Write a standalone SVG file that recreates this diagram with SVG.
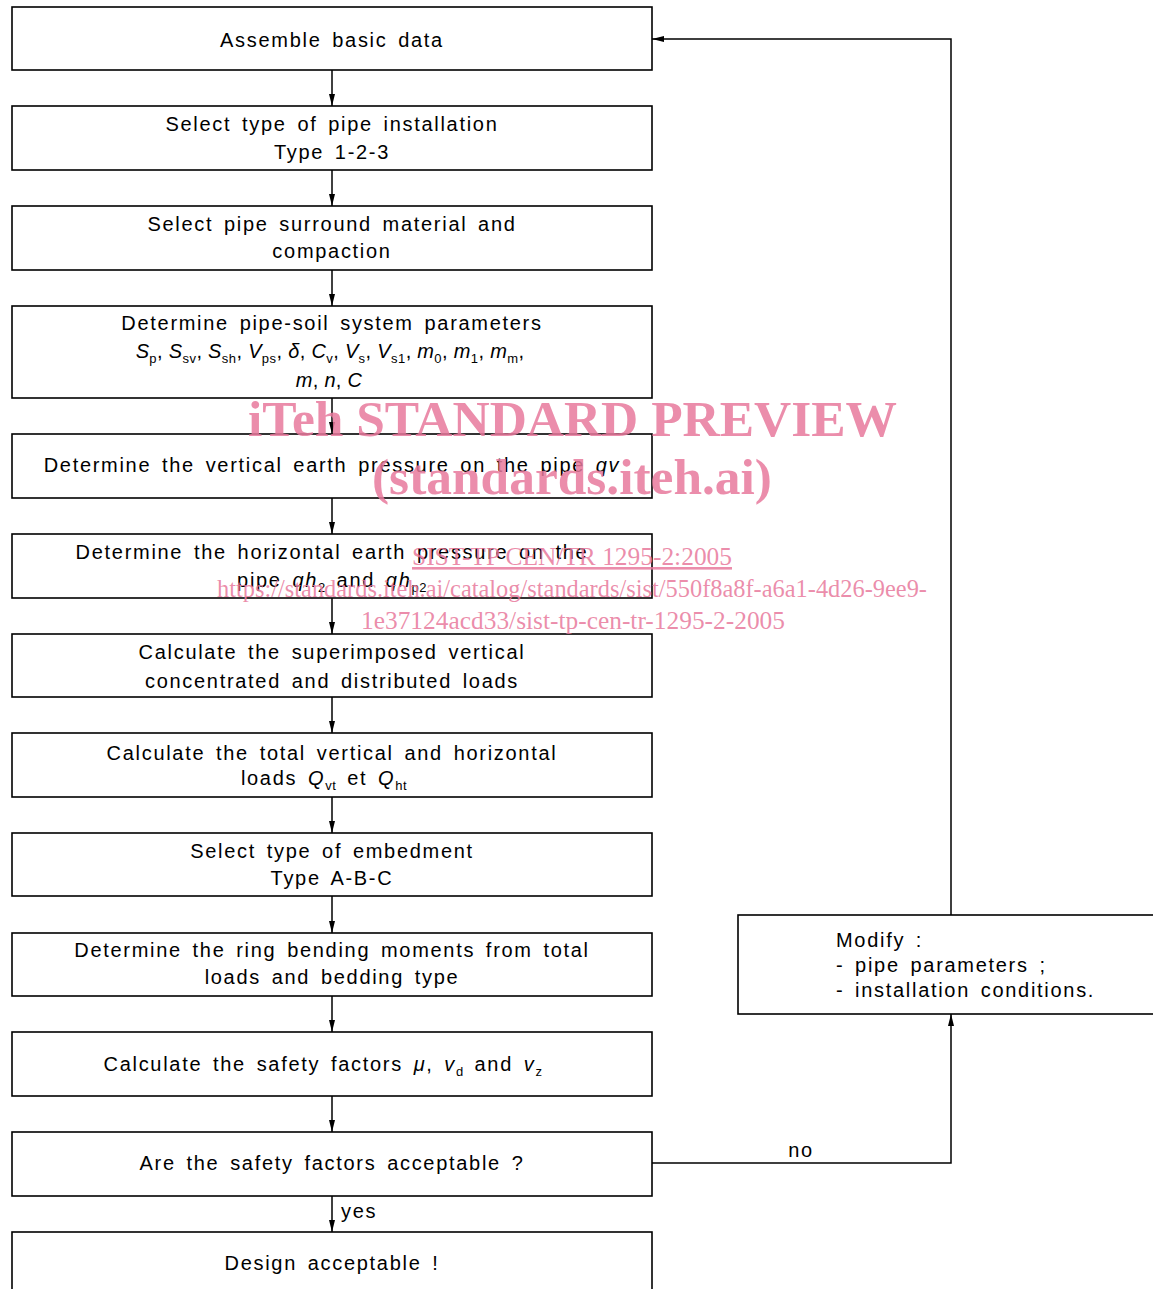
<svg xmlns="http://www.w3.org/2000/svg" width="1153" height="1289" viewBox="0 0 1153 1289">
<defs>
<marker id="arr" viewBox="0 0 12 6" refX="12" refY="3" markerWidth="12" markerHeight="6" markerUnits="userSpaceOnUse" orient="auto">
<path d="M0,0 L12,3 L0,6 Z" fill="#000"/>
</marker>
<style>
.box{fill:#fff;stroke:#000;stroke-width:1.6}
.t{font-family:"Liberation Sans","DejaVu Sans",sans-serif;font-size:20px;letter-spacing:1.7px;word-spacing:3.5px;fill:#000;text-anchor:middle}
.l{text-anchor:start}
.m{letter-spacing:0.3px;word-spacing:0}
.i{font-style:italic}
.s{font-size:13px;letter-spacing:0.5px}
.c{fill:none;stroke:#000;stroke-width:1.5}
.w{font-family:"Liberation Serif","Times New Roman",serif;fill:#e8799c;fill-opacity:0.85}
</style>
</defs>
<rect width="1153" height="1289" fill="#fff"/>
<g id="connectors">
<line class="c" x1="332" y1="70" x2="332" y2="106" marker-end="url(#arr)"/>
<line class="c" x1="332" y1="170" x2="332" y2="206" marker-end="url(#arr)"/>
<line class="c" x1="332" y1="270" x2="332" y2="306" marker-end="url(#arr)"/>
<line class="c" x1="332" y1="398" x2="332" y2="434" marker-end="url(#arr)"/>
<line class="c" x1="332" y1="498" x2="332" y2="534" marker-end="url(#arr)"/>
<line class="c" x1="332" y1="598" x2="332" y2="634" marker-end="url(#arr)"/>
<line class="c" x1="332" y1="697" x2="332" y2="733" marker-end="url(#arr)"/>
<line class="c" x1="332" y1="797" x2="332" y2="833" marker-end="url(#arr)"/>
<line class="c" x1="332" y1="896" x2="332" y2="933" marker-end="url(#arr)"/>
<line class="c" x1="332" y1="996" x2="332" y2="1032" marker-end="url(#arr)"/>
<line class="c" x1="332" y1="1096" x2="332" y2="1132" marker-end="url(#arr)"/>
<line class="c" x1="332" y1="1196" x2="332" y2="1232" marker-end="url(#arr)"/>
<polyline class="c" points="652,1163 951,1163 951,1014" marker-end="url(#arr)"/>
<polyline class="c" points="951,915 951,39 652,39" marker-end="url(#arr)"/>
<text class="t" x="801" y="1157">no</text>
<text class="t l" x="341" y="1218">yes</text>
</g>
<g id="n1"><rect class="box" x="12" y="7" width="640" height="63"/><text class="t" x="332" y="47">Assemble basic data</text></g>
<g id="n2"><rect class="box" x="12" y="106" width="640" height="64"/><text class="t" x="332" y="131">Select type of pipe installation</text><text class="t" x="332" y="159">Type 1-2-3</text></g>
<g id="n3"><rect class="box" x="12" y="206" width="640" height="64"/><text class="t" x="332" y="231">Select pipe surround material and</text><text class="t" x="332" y="258">compaction</text></g>
<g id="n4"><rect class="box" x="12" y="306" width="640" height="92"/><text class="t" x="332" y="330">Determine pipe-soil system parameters</text>
<text class="t m" x="330" y="358"><tspan class="i">S</tspan><tspan class="s" dy="5">p</tspan><tspan dy="-5">, </tspan><tspan class="i">S</tspan><tspan class="s" dy="5">sv</tspan><tspan dy="-5">, </tspan><tspan class="i">S</tspan><tspan class="s" dy="5">sh</tspan><tspan dy="-5">, </tspan><tspan class="i">V</tspan><tspan class="s" dy="5">ps</tspan><tspan dy="-5">, </tspan><tspan class="i">δ</tspan>, <tspan class="i">C</tspan><tspan class="s" dy="5">v</tspan><tspan dy="-5">, </tspan><tspan class="i">V</tspan><tspan class="s" dy="5">s</tspan><tspan dy="-5">, </tspan><tspan class="i">V</tspan><tspan class="s" dy="5">s1</tspan><tspan dy="-5">, </tspan><tspan class="i">m</tspan><tspan class="s" dy="5">0</tspan><tspan dy="-5">, </tspan><tspan class="i">m</tspan><tspan class="s" dy="5">1</tspan><tspan dy="-5">, </tspan><tspan class="i">m</tspan><tspan class="s" dy="5">m</tspan><tspan dy="-5">,</tspan></text>
<text class="t m" x="329" y="387"><tspan class="i">m</tspan>, <tspan class="i">n</tspan>, <tspan class="i">C</tspan></text></g>
<g id="n5"><rect class="box" x="12" y="434" width="640" height="64"/><text class="t" x="332" y="472">Determine the vertical earth pressure on the pipe <tspan class="i">qv</tspan></text></g>
<g id="n6"><rect class="box" x="12" y="534" width="640" height="64"/><text class="t" x="332" y="559">Determine the horizontal earth pressure on the</text><text class="t" x="332" y="587">pipe <tspan class="i">qh</tspan><tspan class="s" dy="5">2</tspan><tspan dy="-5"> and </tspan><tspan class="i">qh</tspan><tspan class="s" dy="5">p2</tspan></text></g>
<g id="n7"><rect class="box" x="12" y="634" width="640" height="63"/><text class="t" x="332" y="659">Calculate the superimposed vertical</text><text class="t" x="332" y="688">concentrated and distributed loads</text></g>
<g id="n8"><rect class="box" x="12" y="733" width="640" height="64"/><text class="t" x="332" y="760">Calculate the total vertical and horizontal</text><text class="t" x="324" y="785">loads <tspan class="i">Q</tspan><tspan class="s" dy="5">vt</tspan><tspan dy="-5"> et </tspan><tspan class="i">Q</tspan><tspan class="s" dy="5">ht</tspan></text></g>
<g id="n9"><rect class="box" x="12" y="833" width="640" height="63"/><text class="t" x="332" y="858">Select type of embedment</text><text class="t" x="332" y="885">Type A-B-C</text></g>
<g id="n10"><rect class="box" x="12" y="933" width="640" height="63"/><text class="t" x="332" y="957">Determine the ring bending moments from total</text><text class="t" x="332" y="984">loads and bedding type</text></g>
<g id="n11"><rect class="box" x="12" y="1032" width="640" height="64"/><text class="t" x="323" y="1071">Calculate the safety factors  <tspan class="i">μ</tspan>, <tspan class="i">v</tspan><tspan class="s" dy="5">d</tspan><tspan dy="-5"> and </tspan><tspan class="i">v</tspan><tspan class="s" dy="5">z</tspan></text></g>
<g id="n12"><rect class="box" x="12" y="1132" width="640" height="64"/><text class="t" x="332" y="1170">Are the safety factors acceptable ?</text></g>
<g id="n13"><rect class="box" x="12" y="1232" width="640" height="70"/><text class="t" x="332" y="1270">Design acceptable !</text></g>
<g id="modify"><rect class="box" x="738" y="915" width="430" height="99"/><text class="t l" x="836" y="947">Modify :</text><text class="t l" x="836" y="972">- pipe parameters ;</text><text class="t l" x="836" y="997">- installation conditions.</text></g>
<g id="watermark">
<text class="w" x="248" y="436" font-size="50" font-weight="bold" textLength="649" lengthAdjust="spacingAndGlyphs">iTeh STANDARD PREVIEW</text>
<text class="w" x="372" y="494" font-size="50" font-weight="bold" textLength="400" lengthAdjust="spacingAndGlyphs">(standards.iteh.ai)</text>
<text class="w" x="412" y="565" font-size="26" text-decoration="underline" textLength="320" lengthAdjust="spacingAndGlyphs">SIST-TP CEN/TR 1295-2:2005</text>
<text class="w" x="217" y="597" font-size="26" textLength="710" lengthAdjust="spacingAndGlyphs">https://standards.iteh.ai/catalog/standards/sist/550f8a8f-a6a1-4d26-9ee9-</text>
<text class="w" x="361" y="629" font-size="26" textLength="424" lengthAdjust="spacingAndGlyphs">1e37124acd33/sist-tp-cen-tr-1295-2-2005</text>
</g>
</svg>
